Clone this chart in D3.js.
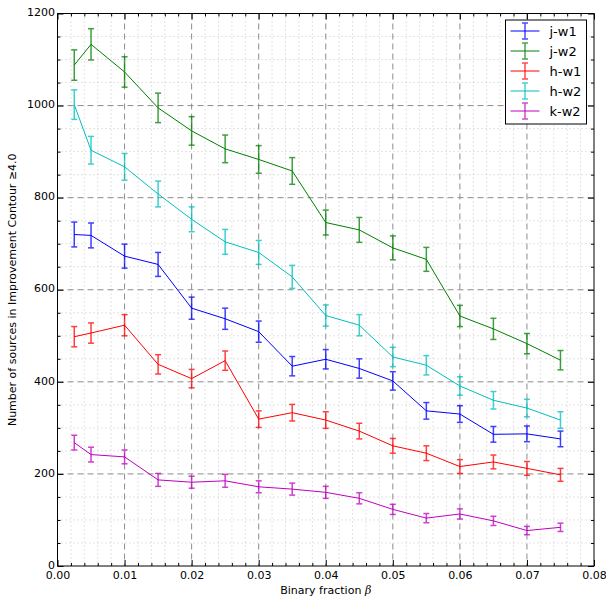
<!DOCTYPE html>
<html><head><meta charset="utf-8">
<script src="https://cdn.jsdelivr.net/npm/d3@7"></script>
<style>body{margin:0;background:#fff}svg{display:block}text{font-family:"DejaVu Sans",sans-serif}</style>
</head><body>
<svg id="c" width="606" height="597"></svg>
<script>
const xs = [0.0025,0.005,0.01,0.015,0.02,0.025,0.03,0.035,0.04,0.045,0.05,0.055,0.06,0.065,0.07,0.075];
const seriesNames = ["j-w1","j-w2","h-w1","h-w2","k-w2"];
const seriesColors = ["#0000ff","#008000","#ff0000","#00bfbf","#bf00bf"];
const jw1 = [720,718,673,655,560,537,509,434,449,429,402,337,330,286,287,276];
const jw1Err = [27,27,26,26,24,23,23,21,21,21,20,18,18,17,17,17];
const jw2 = [1088,1133,1073,995,945,906,883,858,746,730,691,666,543,515,483,447];
const jw2Err = [33,34,33,32,31,30,30,29,27,27,26,26,23,23,22,21];
const hw1 = [498,506,523,438,407,446,319,333,317,293,261,245,216,226,212,198];
const hw1Err = [22,22,23,21,20,21,18,18,18,17,16,16,15,15,15,14];
const hw2 = [1002,903,867,808,753,704,681,628,544,523,454,436,391,360,343,317];
const hw2Err = [32,30,29,28,27,27,26,25,23,23,21,21,20,19,19,18];
const kw2 = [268,242,237,187,182,185,172,167,160,147,123,104,113,98,77,84];
const kw2Err = [16,16,15,14,13,14,13,13,13,12,11,10,11,10,9,9];
const xTicks = [0,0.01,0.02,0.03,0.04,0.05,0.06,0.07,0.08];
const yTicks = [0,200,400,600,800,1000,1200];

const values = [jw1,jw2,hw1,hw2,kw2];
const errors = [jw1Err,jw2Err,hw1Err,hw2Err,kw2Err];

const L=57.5,R=594,T=13.5,B=566;
const svg = d3.select("#c");
const x = d3.scaleLinear().domain([0,0.08]).range([L,R]);
const y = d3.scaleLinear().domain([0,1200]).range([B,T]);

const xMinor = d3.range(0,0.0801,0.002).filter(v=>Math.abs(v/0.01-Math.round(v/0.01))>1e-6);
const yMinor = d3.range(0,1201,50).filter(v=>v%200!==0);

const g = svg.append("g");
// minor grid
g.selectAll(".vmin").data(xMinor).join("line").attr("x1",d=>x(d)).attr("x2",d=>x(d)).attr("y1",T).attr("y2",B)
 .attr("stroke","#c8c8c8").attr("stroke-width",1).attr("stroke-dasharray","1,3");
g.selectAll(".hmin").data(yMinor).join("line").attr("y1",d=>y(d)).attr("y2",d=>y(d)).attr("x1",L).attr("x2",R)
 .attr("stroke","#c8c8c8").attr("stroke-width",1).attr("stroke-dasharray","1,3");
// major grid
g.selectAll(".vmaj").data(xTicks.slice(1,-1)).join("line").attr("x1",d=>x(d)).attr("x2",d=>x(d)).attr("y1",T).attr("y2",B)
 .attr("stroke","#8c8c8c").attr("stroke-width",1).attr("stroke-dasharray","6,4");
g.selectAll(".hmaj").data(yTicks.slice(1,-1)).join("line").attr("y1",d=>y(d)).attr("y2",d=>y(d)).attr("x1",L).attr("x2",R)
 .attr("stroke","#8c8c8c").attr("stroke-width",1).attr("stroke-dasharray","6,4");

// axes with inward ticks
const fmtX = d3.format(".2f");
function inward(axisGen, transform, showLabels){
  const a = svg.append("g").attr("transform",transform).call(axisGen);
  a.select(".domain").remove();
  a.selectAll("text").attr("font-size",11).attr("fill","#000");
  if(!showLabels) a.selectAll("text").remove();
  return a;
}
inward(d3.axisBottom(x).tickValues(xTicks).tickSize(-6).tickPadding(5).tickFormat(fmtX),`translate(0,${B})`,true);
inward(d3.axisBottom(x).tickValues(xMinor).tickSize(-3).tickFormat(""),`translate(0,${B})`,false);
inward(d3.axisTop(x).tickValues(xTicks).tickSize(-6).tickFormat(""),`translate(0,${T})`,false);
inward(d3.axisTop(x).tickValues(xMinor).tickSize(-3).tickFormat(""),`translate(0,${T})`,false);
const yAx = inward(d3.axisLeft(y).tickValues(yTicks).tickSize(-6).tickPadding(2.5).tickFormat(d3.format("d")),`translate(${L},0)`,true);
yAx.selectAll("text").attr("dy","0.2em");
inward(d3.axisLeft(y).tickValues(yMinor).tickSize(-3).tickFormat(""),`translate(${L},0)`,false);
inward(d3.axisRight(y).tickValues(yTicks).tickSize(-6).tickFormat(""),`translate(${R},0)`,false);
inward(d3.axisRight(y).tickValues(yMinor).tickSize(-3).tickFormat(""),`translate(${R},0)`,false);

// series
const line = d3.line().x(d=>x(d[0])).y(d=>y(d[1]));
values.forEach((vals,i)=>{
  const col = seriesColors[i];
  const pts = xs.map((xv,j)=>[xv,vals[j],errors[i][j]]);
  const sg = svg.append("g");
  const eb = sg.append("g").attr("stroke",col).attr("stroke-width",1.5).attr("opacity",0.75);
  eb.selectAll(".v").data(pts).join("line").attr("x1",d=>x(d[0])).attr("x2",d=>x(d[0]))
    .attr("y1",d=>y(d[1]-d[2])).attr("y2",d=>y(d[1]+d[2]));
  eb.selectAll(".t").data(pts).join("line").attr("x1",d=>x(d[0])-3).attr("x2",d=>x(d[0])+3)
    .attr("y1",d=>y(d[1]+d[2])).attr("y2",d=>y(d[1]+d[2]));
  eb.selectAll(".b").data(pts).join("line").attr("x1",d=>x(d[0])-3).attr("x2",d=>x(d[0])+3)
    .attr("y1",d=>y(d[1]-d[2])).attr("y2",d=>y(d[1]-d[2]));
  sg.append("path").attr("d",line(pts)).attr("fill","none").attr("stroke",col).attr("stroke-width",1);
});

// frame
svg.append("rect").attr("x",L).attr("y",T).attr("width",R-L).attr("height",B-T)
  .attr("fill","none").attr("stroke","#000").attr("stroke-width",1);

// legend
const lg = svg.append("g").attr("transform","translate(505.5,20)");
lg.append("rect").attr("width",81).attr("height",104).attr("fill","#fff").attr("stroke","#000").attr("stroke-width",1);
seriesNames.forEach((n,i)=>{
  const cy = 11 + i*20, col = seriesColors[i];
  const e = lg.append("g").attr("stroke",col);
  e.append("line").attr("x1",5).attr("x2",34).attr("y1",cy).attr("y2",cy).attr("stroke-width",1);
  const eb = e.append("g").attr("stroke-width",1.5).attr("opacity",0.7);
  eb.append("line").attr("x1",19.5).attr("x2",19.5).attr("y1",cy-8).attr("y2",cy+8);
  eb.append("line").attr("x1",16.5).attr("x2",22.5).attr("y1",cy-8).attr("y2",cy-8);
  eb.append("line").attr("x1",16.5).attr("x2",22.5).attr("y1",cy+8).attr("y2",cy+8);
  lg.append("text").attr("x",44).attr("y",cy).attr("dy","0.35em").attr("font-size",13).text(n);
});

// axis labels
svg.append("text").attr("x",(L+R)/2).attr("y",594).attr("text-anchor","middle").attr("font-size",11)
  .html('Binary fraction <tspan font-family="DejaVu Serif" font-style="italic">β</tspan>');
svg.append("text").attr("transform",`translate(16,${(T+B)/2}) rotate(-90)`).attr("text-anchor","middle").attr("font-size",11)
  .text("Number of sources in Improvement Contour ≥4.0");
</script>
</body></html>
